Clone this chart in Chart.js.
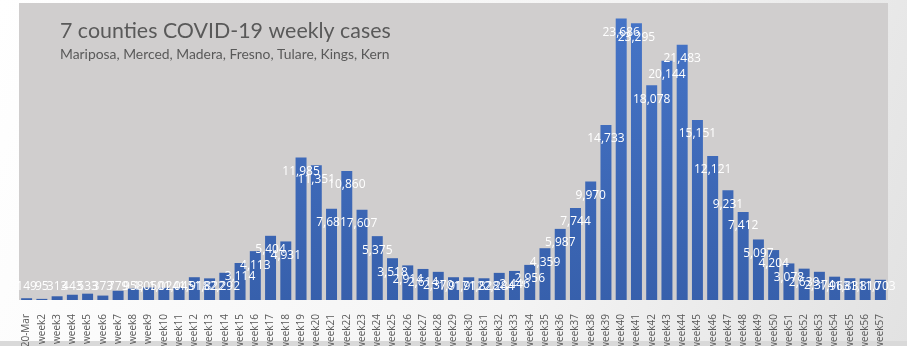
<!DOCTYPE html>
<html>
<head>
<meta charset="utf-8">
<script src="https://cdn.jsdelivr.net/npm/chart.js@4/dist/chart.umd.min.js"></script>
<style>
html,body{margin:0;padding:0;background:#fff;}
#wrap{width:907px;height:346px;position:relative;}
</style>
</head>
<body>
<div id="wrap"><canvas id="c" width="907" height="346"></canvas></div>
<script>
const titleText = "7 counties COVID-19 weekly cases";
const subtitleText = "Mariposa, Merced, Madera, Fresno, Tulare, Kings, Kern";

const categories = ["20-Mar"];
for (let i = 2; i <= 57; i++) categories.push("week" + i);

const weeklyCases = [149, 95, 313, 443, 533, 373, 779, 958, 1050, 1024,
  1045, 1918, 1822, 2292, 3114, 4113, 5404, 4931, 11985, 11351,
  7681, 10860, 7607, 5375, 3518, 2914, 2614, 2370, 1917, 1912,
  1828, 2284, 2446, 2956, 4359, 5987, 7744, 9970, 14733, 23686,
  23295, 18078, 20144, 21483, 15151, 12121, 9231, 7412, 5097, 4204,
  3078, 2639, 2374, 1963, 1831, 1810, 1703];

const yMax = 25000;

const bgPlugin = {
  id: 'bg',
  beforeDraw(chart) {
    const ctx = chart.ctx, W = chart.width, H = chart.height;
    const ca = chart.chartArea;
    ctx.save();
    const g = ctx.createLinearGradient(0, 0, W, H);
    g.addColorStop(0, '#ffffff');
    g.addColorStop(0.6, '#f4f4f4');
    g.addColorStop(1, '#e2e2e2');
    ctx.fillStyle = g;
    ctx.fillRect(0, 0, W, H);
    ctx.fillStyle = '#d9d9d9';
    ctx.fillRect(0, H - 5, W, 5);
    ctx.fillStyle = '#D0CECE';
    ctx.fillRect(ca.left, ca.top, ca.right - ca.left, ca.bottom - ca.top);
    ctx.restore();
  }
};

function fitFont(ctx, text, family, targetW, base) {
  ctx.font = base + 'px ' + family;
  const w = ctx.measureText(text).width;
  return base * targetW / w;
}

const titlePlugin = {
  id: 'ttl',
  afterDraw(chart) {
    const ctx = chart.ctx;
    ctx.save();
    ctx.fillStyle = '#595959';
    ctx.textAlign = 'left';
    ctx.textBaseline = 'alphabetic';
    let s = fitFont(ctx, titleText, 'Lato', 331, 22);
    ctx.font = s + 'px Lato';
    ctx.fillText(titleText, 60, 38);
    let s2 = fitFont(ctx, subtitleText, 'Lato', 330, 13);
    ctx.font = s2 + 'px Lato';
    ctx.fillText(subtitleText, 60, 58.5);
    ctx.restore();
  }
};

const labelPlugin = {
  id: 'vals',
  afterDatasetsDraw(chart) {
    const ctx = chart.ctx;
    const meta = chart.getDatasetMeta(0);
    ctx.save();
    ctx.fillStyle = '#ffffff';
    ctx.font = '12px "Open Sans"';
    ctx.textAlign = 'center';
    ctx.textBaseline = 'middle';
    meta.data.forEach((bar, i) => {
      const v = chart.data.datasets[0].data[i];
      const y = Math.min(bar.y + 14, bar.base - 13);
      ctx.fillText(v.toLocaleString('en-US'), bar.x, y);
    });
    ctx.restore();
  }
};

const ctx = document.getElementById('c').getContext('2d');
new Chart(ctx, {
  type: 'bar',
  data: {
    labels: categories,
    datasets: [{
      data: weeklyCases,
      backgroundColor: (c) => {
        const ch = c.chart;
        const ca = ch.chartArea;
        if (!ca) return '#4472C4';
        const g = ch.ctx.createLinearGradient(0, ca.top, 0, ca.bottom);
        g.addColorStop(0, '#4675C8');
        g.addColorStop(1, '#3760AC');
        return g;
      },
      borderWidth: 0,
      barPercentage: 0.72,
      categoryPercentage: 1.0
    }]
  },
  options: {
    responsive: false,
    animation: false,
    layout: { padding: { left: 19, right: 19, top: 3, bottom: 0 } },
    plugins: { legend: { display: false }, tooltip: { enabled: false }, title: { display: false } },
    scales: {
      x: {
        grid: { display: false },
        border: { display: false },
        ticks: {
          autoSkip: false,
          maxRotation: 90,
          minRotation: 90,
          padding: 6,
          color: '#595959',
          font: { family: 'Open Sans', size: 10 }
        },
        afterFit(scale) { scale.height = 46; }
      },
      y: {
        display: false,
        min: 0,
        max: yMax
      }
    }
  },
  plugins: [bgPlugin, labelPlugin, titlePlugin]
});
</script>
</body>
</html>
